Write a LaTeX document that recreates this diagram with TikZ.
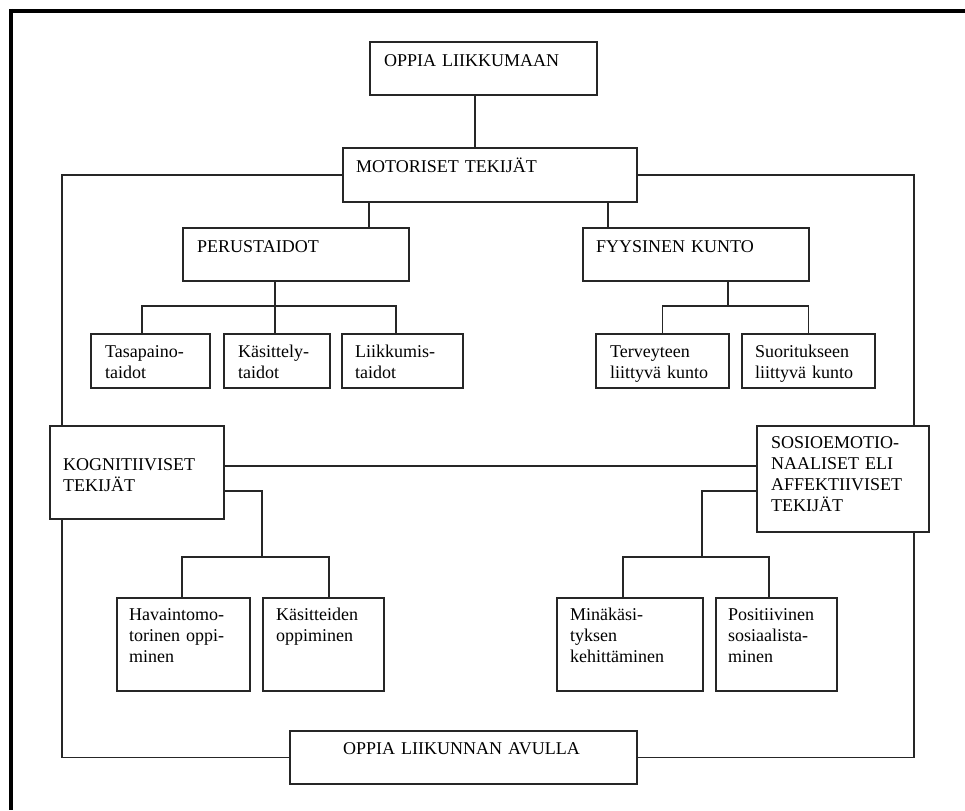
\documentclass[tikz,border=0pt]{standalone}
\usepackage{fontspec}
\setmainfont{Liberation Serif}
\begin{document}
\begin{tikzpicture}[x=1pt,y=-1pt,
  box/.style={draw=black!85,line width=1.8pt,rectangle,inner sep=0pt,anchor=north west},
  lbl/.style={anchor=base west,inner sep=0pt,align=left,text width=400pt,
    font=\fontsize{18}{21}\selectfont},
  conn/.style={draw=black!85,line width=1.8pt},
  frame/.style={draw=black,line width=4pt}]
\useasboundingbox (0,0) rectangle (965,810);
\fill[white] (0,0) rectangle (965,810);
% outer (cropped) frame
\coordinate (fa) at (9,11);
\coordinate (fb) at (965,11);
\coordinate (fc) at (11,9);
\coordinate (fd) at (11,810);
\draw[frame] (fa) -- (fb);
\draw[frame] (fc) -- (fd);
% boxes
\node[box,minimum width=227pt,minimum height=53pt] (top) at (369,41) {};
\node[box,minimum width=294pt,minimum height=54pt] (mot) at (342,147) {};
\node[box,minimum width=226pt,minimum height=53pt] (per) at (182,227) {};
\node[box,minimum width=226pt,minimum height=53pt] (fyy) at (582,227) {};
\node[box,minimum width=119pt,minimum height=54pt] (tas) at (90,333) {};
\node[box,minimum width=106pt,minimum height=54pt] (kas) at (223,333) {};
\node[box,minimum width=121pt,minimum height=54pt] (lii) at (341,333) {};
\node[box,minimum width=133pt,minimum height=54pt] (ter) at (595,333) {};
\node[box,minimum width=133pt,minimum height=54pt] (suo) at (741,333) {};
\node[box,minimum width=174pt,minimum height=93pt] (kog) at (49,425) {};
\node[box,minimum width=172pt,minimum height=106pt] (sos) at (756,425) {};
\node[box,minimum width=133pt,minimum height=93pt] (hav) at (116,597) {};
\node[box,minimum width=121pt,minimum height=93pt] (kst) at (262,597) {};
\node[box,minimum width=146pt,minimum height=93pt] (min) at (556,597) {};
\node[box,minimum width=121pt,minimum height=93pt] (pos) at (715,597) {};
\node[box,minimum width=347pt,minimum height=53pt] (bot) at (289,730) {};
% labels
\node[lbl] (ttop) at (384,67) {OPPIA LIIKKUMAAN};
\node[lbl] (tmot) at (356,173) {MOTORISET TEKIJÄT};
\node[lbl] (tper) at (197,252) {PERUSTAIDOT};
\node[lbl] (tfyy) at (596,252) {FYYSINEN KUNTO};
\node[lbl] (ttas) at (105,357) {Tasapaino-\\taidot};
\node[lbl] (tkas) at (238,357) {Käsittely-\\taidot};
\node[lbl] (tlii) at (355,357) {Liikkumis-\\taidot};
\node[lbl] (tter) at (610,357) {Terveyteen\\liittyvä kunto};
\node[lbl] (tsuo) at (755,357) {Suoritukseen\\liittyvä kunto};
\node[lbl] (tkog) at (63,470) {KOGNITIIVISET\\TEKIJÄT};
\node[lbl] (tsos) at (771,448) {SOSIOEMOTIO-\\NAALISET ELI\\AFFEKTIIVISET\\TEKIJÄT};
\node[lbl] (thav) at (129,620) {Havaintomo-\\torinen oppi-\\minen};
\node[lbl] (tkst) at (276,620) {Käsitteiden\\oppiminen};
\node[lbl] (tmin) at (570,620) {Minäkäsi-\\tyksen\\kehittäminen};
\node[lbl] (tpos) at (728,620) {Positiivinen\\sosiaalista-\\minen};
\node[lbl] (tbot) at (343,754) {OPPIA LIIKUNNAN AVULLA};
% helper coordinates
\coordinate (x1) at (475,0);
\coordinate (fl) at (62,0);
\coordinate (fr) at (914,0);
\coordinate (x2) at (369,0);
\coordinate (x3) at (608,0);
\coordinate (pj) at (275,306);
\coordinate (pa) at (142,306);
\coordinate (pb) at (396,306);
\coordinate (fj) at (728,306);
\coordinate (hy) at (0,466);
\coordinate (kj) at (262,491);
\coordinate (kk) at (262,557);
\coordinate (ka) at (182,557);
\coordinate (kb) at (329,557);
\coordinate (sj) at (702,491);
\coordinate (sk) at (702,557);
\coordinate (sa) at (623,557);
\coordinate (sb) at (769,557);
% connectors
\draw[conn] (top.south -| x1) -- (mot.north -| x1);
\draw[conn] (mot.west) -| (kog.north -| fl);
\draw[conn] (kog.south -| fl) |- (bot.west);
\draw[conn] (mot.east) -| (sos.north -| fr);
\draw[conn] (sos.south -| fr) |- (bot.east);
\draw[conn] (mot.south -| x2) -- (per.north -| x2);
\draw[conn] (mot.south -| x3) -- (fyy.north -| x3);
\draw[conn] (per.south -| pj) -- (pj);
\draw[conn] (pa |- tas.north) -- (pa) -- (pb) -- (pb |- lii.north);
\draw[conn] (pj) -- (pj |- kas.north);
\draw[conn] (fyy.south -| fj) -- (fj);
\draw[conn] (ter.north) |- (fj) -| (suo.north);
\draw[conn] (kog.east |- hy) -- (sos.west |- hy);
\draw[conn] (kog.east |- kj) -- (kj) -- (kk);
\draw[conn] (ka |- hav.north) -- (ka) -- (kb) -- (kb |- kst.north);
\draw[conn] (sos.west |- sj) -- (sj) -- (sk);
\draw[conn] (sa |- min.north) -- (sa) -- (sb) -- (sb |- pos.north);
\end{tikzpicture}
\end{document}
